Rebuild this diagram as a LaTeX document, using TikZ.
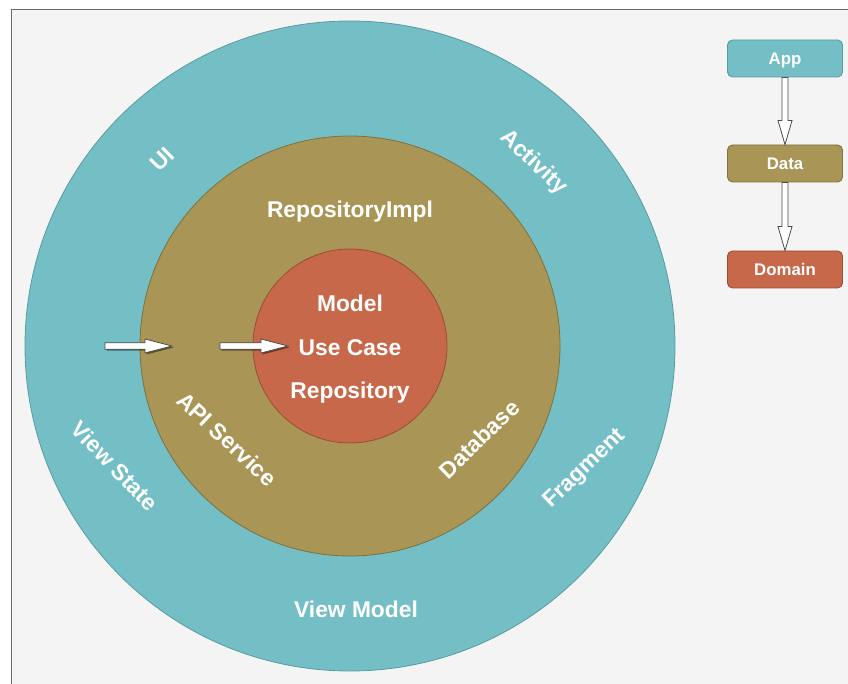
\documentclass[tikz,border=0pt]{standalone}
\usepackage{fontspec}
\setmainfont{Liberation Sans}
\usetikzlibrary{calc,shadows}
\definecolor{cTeal}{HTML}{74BFC6}
\definecolor{cTealD}{HTML}{5A9BA2}
\definecolor{cOlive}{HTML}{A99656}
\definecolor{cOliveD}{HTML}{7E703F}
\definecolor{cRust}{HTML}{C8684A}
\definecolor{cRustD}{HTML}{9A4D34}
\definecolor{cBg}{HTML}{F4F4F4}
\definecolor{cFrame}{HTML}{6A6A6A}
\begin{document}
\begin{tikzpicture}[x=1pt,y=-1pt,
  ring/.style={circle, inner sep=0pt, line width=0.8pt},
  lbl/.style={text=white, font=\fontsize{22.8}{27}\selectfont\bfseries, inner sep=0pt, text height=16.3pt, text depth=0pt},
  lgd/.style={rounded corners=5pt, minimum width=115pt, minimum height=37pt, line width=0.9pt, text=white,
     font=\fontsize{16.8}{20}\selectfont\bfseries, text height=12pt, text depth=0pt, inner sep=0pt},
  harrow/.style={to path={($(\tikztostart)+(0,-3.2)$) -- ($(\tikztotarget)+(-27,-3.2)$) -- ($(\tikztotarget)+(-27,-7)$) -- (\tikztotarget) -- ($(\tikztotarget)+(-27,7)$) -- ($(\tikztotarget)+(-27,3.2)$) -- ($(\tikztostart)+(0,3.2)$) -- cycle}},
  varrow/.style={to path={($(\tikztostart)+(-3,0)$) -- ($(\tikztotarget)+(-3,-24)$) -- ($(\tikztotarget)+(-7,-24)$) -- (\tikztotarget) -- ($(\tikztotarget)+(7,-24)$) -- ($(\tikztotarget)+(3,-24)$) -- ($(\tikztostart)+(3,0)$) -- cycle}},
  hollow/.style={draw=black!70, fill=white, line width=0.8pt, line join=miter},
  shadowed/.style={drop shadow={shadow xshift=1.5pt, shadow yshift=-1.5pt, opacity=.45, fill=black}}
]
\useasboundingbox (0,0) rectangle (848,684);
\fill[white] (0,0) rectangle (848,684);
\fill[cBg] (11,10) rectangle (848,684);
\draw[cFrame, line width=1pt] (11,684) -- (11,10) -- (848,10);

% circles
\node[ring, minimum size=650pt, fill=cTeal, draw=cTealD] (outer) at (350,346) {};
\node[ring, minimum size=420pt, fill=cOlive, draw=cOliveD] (middle) at (350,346) {};
\node[ring, minimum size=194pt, fill=cRust, draw=cRustD] (inner) at (350,346) {};

% inner labels
\node[lbl] (model) at (350,303) {Model};
\node[lbl] (usecase) at (350,347) {Use Case};
\node[lbl] (repo) at (350,390) {Repository};

% middle ring labels
\node[lbl] (repoimpl) at (350,209) {RepositoryImpl};
\node[lbl, rotate=-43] (api) at (227,439) {API Service};
\node[lbl, rotate=44] (db) at (479,439) {Database};

% outer ring labels
\node[lbl, rotate=45] (ui) at (162,159) {UI};
\node[lbl, rotate=-43] (activity) at (535,161) {Activity};
\node[lbl, rotate=-46] (viewstate) at (115,466) {View State};
\node[lbl, rotate=44] (fragment) at (583,467) {Fragment};
\node[lbl] (viewmodel) at (356,609) {View Model};

% arrows across the rings
\coordinate (a1s) at (105,346);
\coordinate (a1e) at (172,346);
\coordinate (a2s) at (220,346);
\coordinate (a2e) at (288,346);
\draw[hollow, shadowed, harrow] (a1s) to (a1e);
\draw[hollow, shadowed, harrow] (a2s) to (a2e);

% legend
\node[lgd, fill=cTeal, draw=cTealD] (app) at (785,58.5) {App};
\node[lgd, fill=cOlive, draw=cOliveD] (data) at (785,163.5) {Data};
\node[lgd, fill=cRust, draw=cRustD] (domain) at (785,269.5) {Domain};
\draw[hollow, varrow] (app.south) to (data.north);
\draw[hollow, varrow] (data.south) to (domain.north);
\end{tikzpicture}
\end{document}
